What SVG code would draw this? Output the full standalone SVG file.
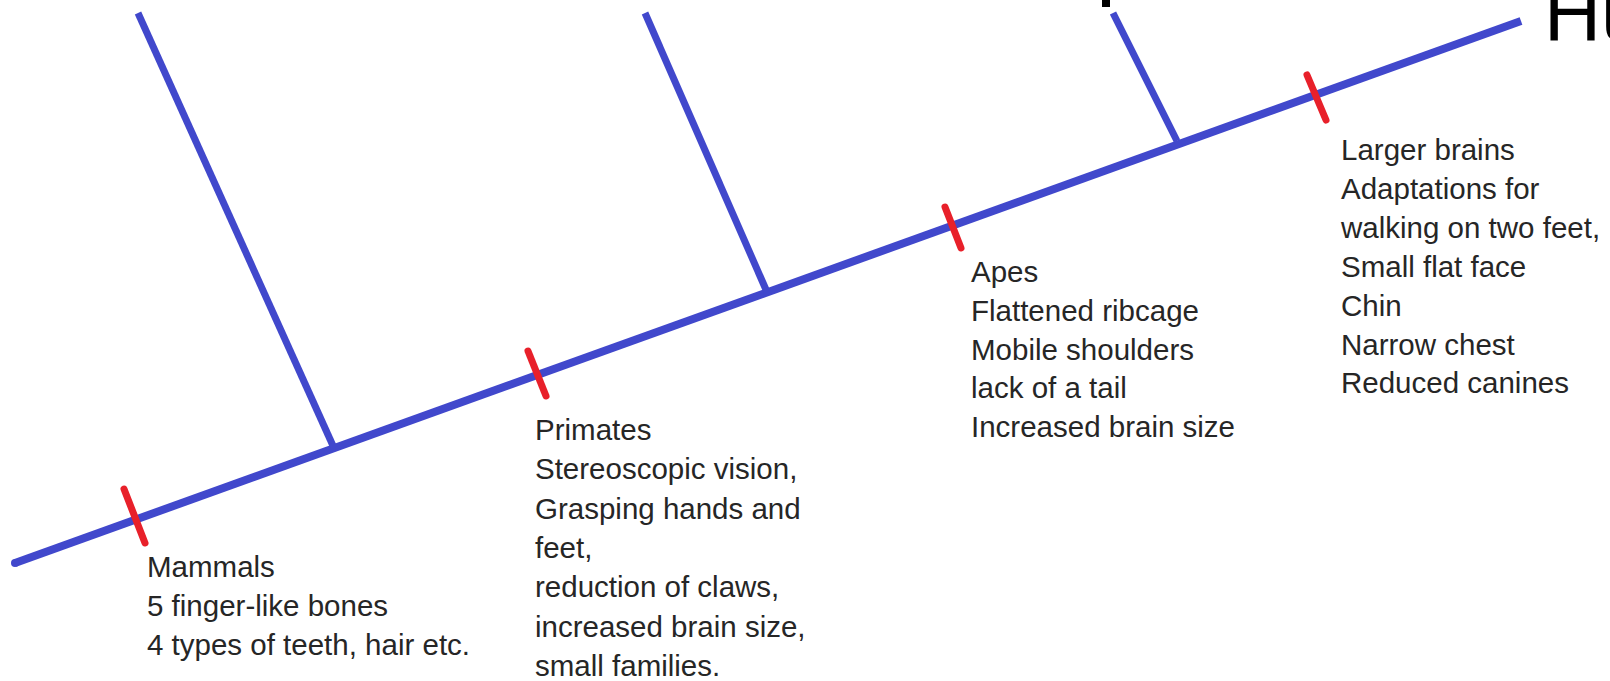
<svg xmlns="http://www.w3.org/2000/svg" width="1610" height="681" viewBox="0 0 1610 681">
<style>
.trunk{stroke:#4148cc;stroke-width:8;fill:none;stroke-linecap:butt}
.branch{stroke:#4148cc;stroke-width:7;fill:none;stroke-linecap:butt}
.tick{stroke:#e8202a;stroke-width:7;fill:none;stroke-linecap:round}
.lbl{font-family:"Liberation Sans",Arial,sans-serif;font-size:29.5px;fill:#262626}
.big{font-family:"Liberation Sans",Arial,sans-serif;font-size:79px;fill:#000}
</style>
<rect width="1610" height="681" fill="#fff"/>
<g id="connectors">
<path class="trunk" d="M15,563 L1521,21"/>
<circle cx="15" cy="563" r="4" fill="#4148cc"/>
<path class="branch" d="M138,13 L334,448"/>
<path class="branch" d="M645,13 L767,292"/>
<path class="branch" d="M1113,13 L1177,141"/>
</g>
<g id="ticks">
<path class="tick" d="M124,489 L145,543"/>
<path class="tick" d="M528,351 L546,396"/>
<path class="tick" d="M945,207 L961,248"/>
<path class="tick" d="M1307,75 L1326,120"/>
</g>
<g id="top-fragments">
<rect x="1102" y="0" width="8" height="7" fill="#000"/>
<text class="big" x="1544" y="40">Hu</text>
</g>
<g id="mammals">
<text class="lbl" x="147" y="577">Mammals</text>
<text class="lbl" x="147" y="616">5 finger-like bones</text>
<text class="lbl" x="147" y="655">4 types of teeth, hair etc.</text>
</g>
<g id="primates">
<text class="lbl" x="535" y="440">Primates</text>
<text class="lbl" x="535" y="479.3">Stereoscopic vision,</text>
<text class="lbl" x="535" y="518.6">Grasping hands and</text>
<text class="lbl" x="535" y="557.9">feet,</text>
<text class="lbl" x="535" y="597.2">reduction of claws,</text>
<text class="lbl" x="535" y="636.5">increased brain size,</text>
<text class="lbl" x="535" y="675.8">small families.</text>
</g>
<g id="apes">
<text class="lbl" x="971" y="282">Apes</text>
<text class="lbl" x="971" y="320.8">Flattened ribcage</text>
<text class="lbl" x="971" y="359.6">Mobile shoulders</text>
<text class="lbl" x="971" y="398.4">lack of a tail</text>
<text class="lbl" x="971" y="437.2">Increased brain size</text>
</g>
<g id="humans">
<text class="lbl" x="1341" y="160">Larger brains</text>
<text class="lbl" x="1341" y="198.9">Adaptations for</text>
<text class="lbl" x="1341" y="237.8">walking on two feet,</text>
<text class="lbl" x="1341" y="276.7">Small flat face</text>
<text class="lbl" x="1341" y="315.6">Chin</text>
<text class="lbl" x="1341" y="354.5">Narrow chest</text>
<text class="lbl" x="1341" y="393.4">Reduced canines</text>
</g>
</svg>
